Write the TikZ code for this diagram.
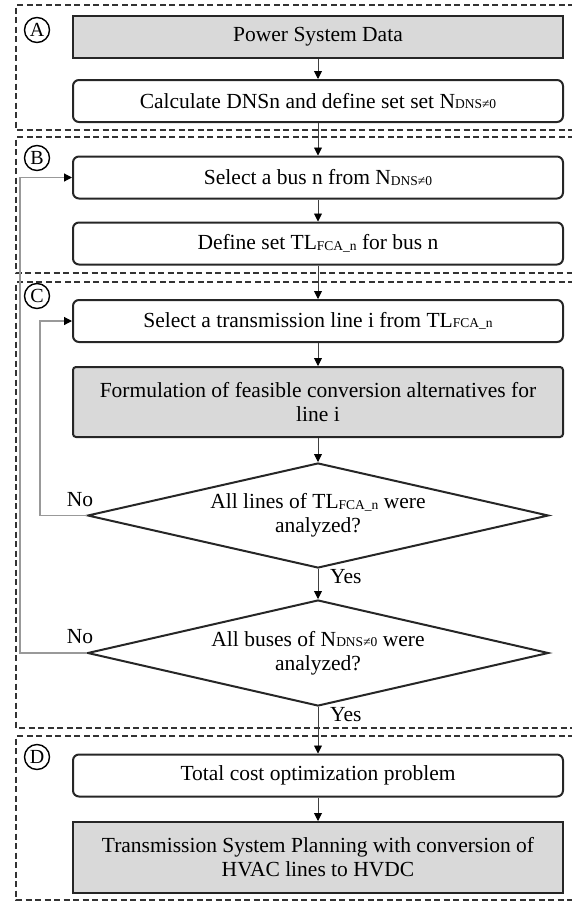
\documentclass[tikz,border=0pt]{standalone}
\usepackage{fontspec}
\setmainfont{Liberation Serif}
\usetikzlibrary{shapes.geometric,arrows.meta}

\newcommand{\smc}[1]{\raisebox{-0.5pt}{\fontsize{13.5}{13.5}\selectfont #1}}

\begin{document}
\begin{tikzpicture}[x=1pt, y=-1pt,
  font=\fontsize{21.5}{24}\selectfont,
  box/.style={draw=black!85, line width=2pt, rounded corners=6pt, minimum width=490pt, minimum height=42pt, inner sep=0pt, align=center},
  grbox/.style={box, fill=black!15},
  cond/.style={diamond, aspect=4.39, draw=black!85, line width=2pt, minimum width=461pt, minimum height=105pt, inner sep=0pt, align=center},
  region/.style={draw=black!80, line width=1.5pt, dash pattern=on 6pt off 3.5pt},
  tag/.style={circle, draw, line width=1.4pt, minimum size=25pt, inner sep=0pt, font=\fontsize{20}{20}\selectfont},
  flow/.style={-{Triangle[length=8pt, width=8pt, color=black]}, line width=0.9pt, draw=black!75},
  back/.style={flow, draw=black!40, line width=1.2pt}]
\useasboundingbox (0,0) rectangle (572,902);

% dashed stages
\draw[region] (574,5) -| (16,130) -- (574,130);
\draw[region] (574,137) -| (16,273) -- (574,273);
\draw[region] (574,282) -| (16,728) -- (574,728);
\draw[region] (574,736) -| (16,900) -- (574,900);
\node[tag] (tagA) at (37,30) {A};
\node[tag] (tagB) at (37,158) {B};
\node[tag] (tagC) at (37,296) {C};
\node[tag] (tagD) at (37,757) {D};

\node[grbox, rounded corners=0pt] (data) at (318,36.5) {Power System Data};
\node[box] (calc) at (318,101) {Calculate DNSn and define set set N\smc{DNS≠0}};
\node[box] (bus) at (318,177.5) {Select a bus n from N\smc{DNS≠0}};
\node[box] (tlset) at (318,243.5) {Define set TL\smc{FCA\_n} for bus n};
\node[box] (line) at (318,321) {Select a transmission line i from TL\smc{FCA\_n}};
\node[grbox, rounded corners=3pt, minimum height=70pt] (form) at (318,402) {Formulation of feasible conversion alternatives for\\line i};
\node[cond] (dec1) at (318,515.5) {All lines of TL\smc{FCA\_n} were\\analyzed?};
\node[cond, minimum height=106pt] (dec2) at (318,653) {All buses of N\smc{DNS≠0} were\\analyzed?};
\node[box] (cost) at (318,775.5) {Total cost optimization problem};
\node[grbox, rounded corners=0pt, minimum height=71pt] (plan) at (318,857.5) {Transmission System Planning with conversion of\\HVAC lines to HVDC};

\draw[flow] (data) -- (calc);
\draw[flow] (calc) -- (bus);
\draw[flow] (bus) -- (tlset);
\draw[flow] (tlset) -- (line);
\draw[flow] (line) -- (form);
\draw[flow] (form) -- (dec1);
\draw[flow] (dec1) -- (dec2);
\draw[flow] (dec2) -- (cost);
\draw[flow] (cost) -- (plan);

\node[anchor=west, inner sep=0pt] (yes1) at (330,577) {Yes};
\node[anchor=west, inner sep=0pt] (yes2) at (330,715) {Yes};
\node (no1) at (80,500) {No};
\node (no2) at (80,637) {No};

% loops back
\coordinate (inner) at (40,0);
\coordinate (outer) at (20,0);
\draw[back] (dec1.west) -- (dec1.west -| inner) |- (line.west);
\draw[back] (dec2.west) -- (dec2.west -| outer) |- (bus.west);
\end{tikzpicture}
\end{document}
